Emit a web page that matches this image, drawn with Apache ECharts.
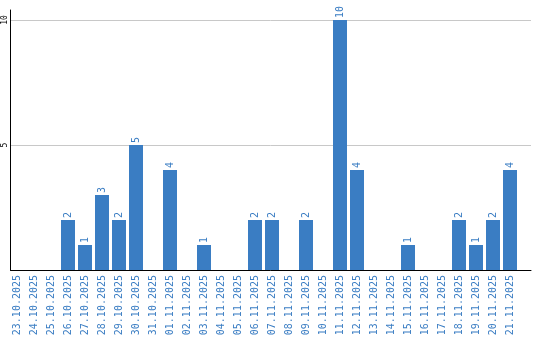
<!DOCTYPE html>
<html><head><meta charset="utf-8">
<script src="https://cdn.jsdelivr.net/npm/echarts@6/dist/echarts.min.js"></script>
<style>html,body{margin:0;padding:0;background:#fff}#c{width:540px;height:340px}</style>
</head><body><div id="c"></div>
<script>
var categories = ["23.10.2025","24.10.2025","25.10.2025","26.10.2025","27.10.2025","28.10.2025","29.10.2025","30.10.2025","31.10.2025","01.11.2025","02.11.2025","03.11.2025","04.11.2025","05.11.2025","06.11.2025","07.11.2025","08.11.2025","09.11.2025","10.11.2025","11.11.2025","12.11.2025","13.11.2025","14.11.2025","15.11.2025","16.11.2025","17.11.2025","18.11.2025","19.11.2025","20.11.2025","21.11.2025"];
var values = [0,0,0,2,1,3,2,5,0,4,0,1,0,0,2,2,0,2,0,10,4,0,0,1,0,0,2,1,2,4];
var yTicks = [5,10];

var blue = '#3a7dc3';
var chart = echarts.init(document.getElementById('c'));
chart.setOption({
  animation: false,
  grid: [
    {left: 10.5, right: 9, top: 10, bottom: 70},
    {left: 8.5, width: 510, top: 10, bottom: 70},
    {left: 10.5, right: 9, top: 20, bottom: 70}
  ],
  xAxis: [
    {gridIndex: 0, type: 'category', data: [''], axisLine: {show: true, lineStyle: {color: '#000', width: 1}}, axisTick: {show: false}, axisLabel: {show: false}},
    {gridIndex: 1, type: 'category', data: categories, axisLine: {show: false}, axisTick: {show: false},
     axisLabel: {interval: 0, rotate: 90, margin: 5, color: blue, fontFamily: 'DejaVu Sans Mono', fontSize: 10}},
    {gridIndex: 2, type: 'category', data: [''], show: false}
  ],
  yAxis: [
    {gridIndex: 0, type: 'value', min: 0, max: 10.4,
     axisLine: {show: true, lineStyle: {color: '#000', width: 1}}, axisTick: {show: false},
     splitLine: {show: false}, axisLabel: {show: false}},
    {gridIndex: 1, type: 'value', min: 0, max: 10.4, show: false, splitLine: {show: false}},
    {gridIndex: 2, type: 'value', min: 0, max: 10, interval: 5,
     axisLine: {show: false}, axisTick: {show: false},
     splitLine: {show: true, lineStyle: {color: '#c8c8c8', width: 1}},
     axisLabel: {rotate: 90, margin: 2, color: '#000', fontFamily: 'DejaVu Sans Mono', fontSize: 8,
       formatter: function (v) { return yTicks.indexOf(v) >= 0 ? String(v) : ''; }}}
  ],
  series: [{
    type: 'bar', xAxisIndex: 1, yAxisIndex: 1, data: values, barWidth: 14,
    itemStyle: {color: blue},
    label: {show: true, position: 'top', rotate: 90, align: 'left', verticalAlign: 'middle', distance: 2,
      color: blue, fontFamily: 'DejaVu Sans Mono', fontSize: 10,
      formatter: function (p) { return p.value ? String(p.value) : ''; }}
  }]
});
</script></body></html>
